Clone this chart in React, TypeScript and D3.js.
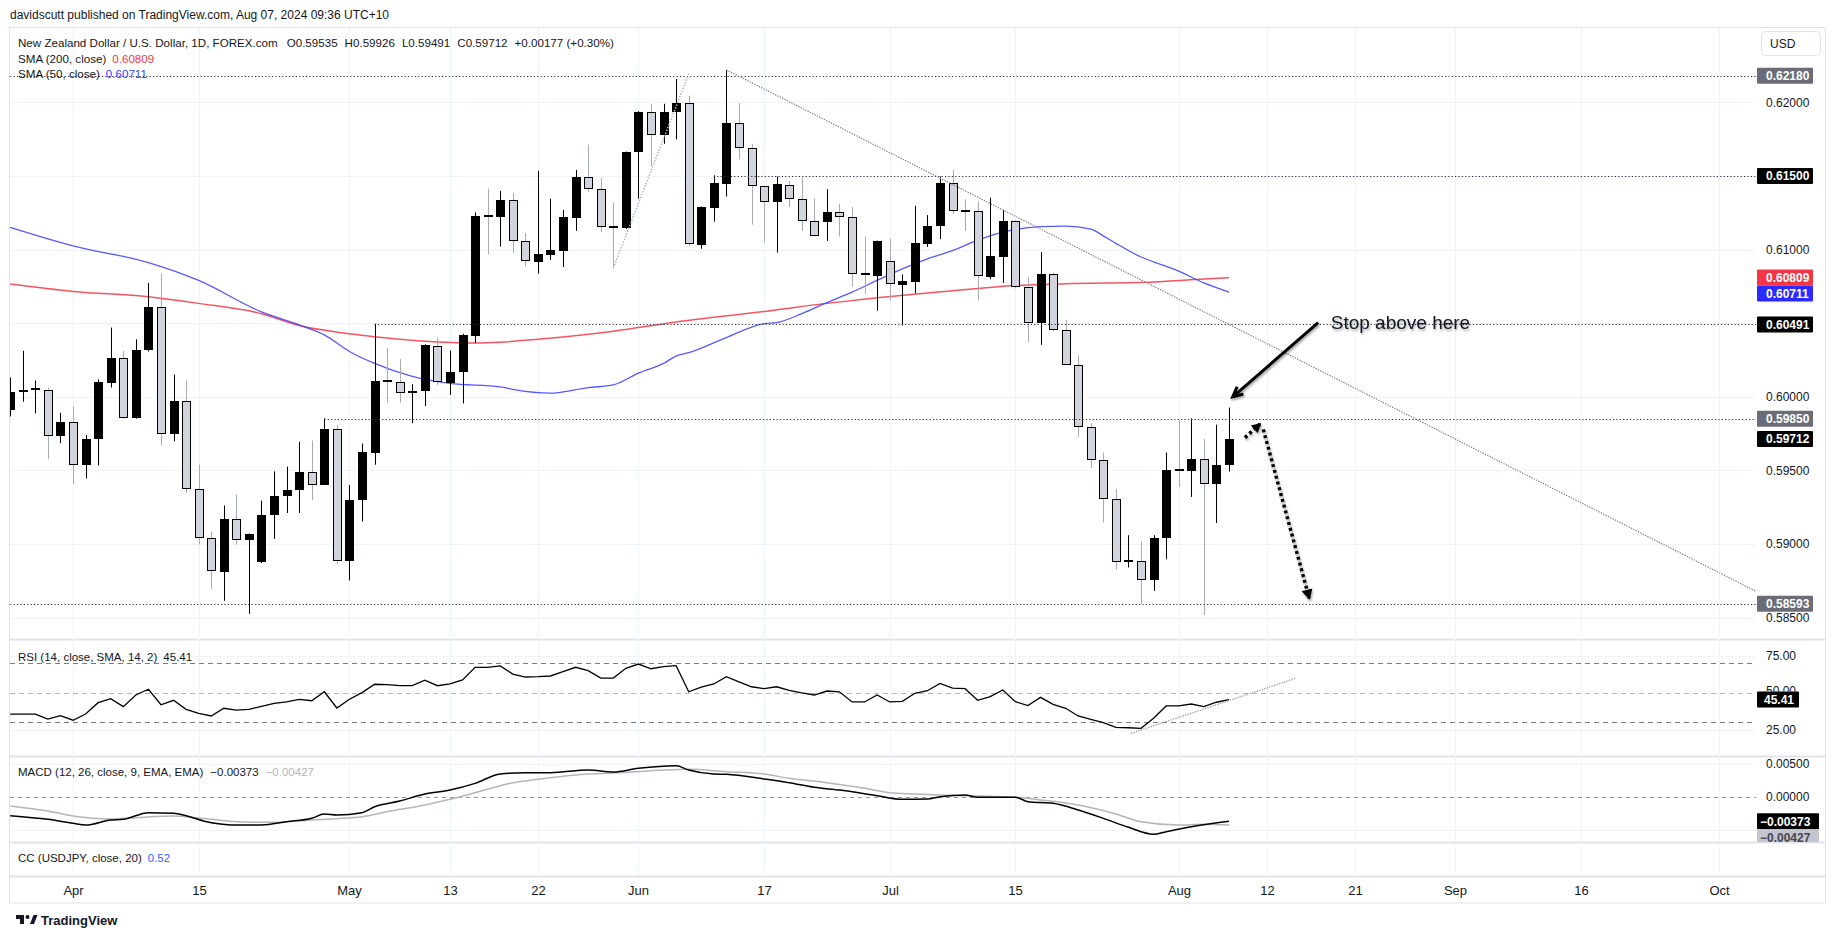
import * as d3 from "d3";

const W = 1835;
const H = 939;
const FONT = "'Liberation Sans', Arial, sans-serif";

// daily bars, weekdays from Mon 25 Mar 2024: [open, high, low, close]
const ohlc: number[][] = [
  [0.59908, 0.6013, 0.59866, 0.60034], [0.60033, 0.60312, 0.59966, 0.6004], [0.60045, 0.6011, 0.59886, 0.6005],
  [0.60047, 0.60062, 0.59576, 0.59735], [0.59732, 0.59891, 0.59684, 0.59828], [0.59828, 0.59934, 0.59404, 0.59535],
  [0.59533, 0.5974, 0.59445, 0.59714], [0.59712, 0.60118, 0.59533, 0.60097], [0.60092, 0.6047, 0.60062, 0.60261],
  [0.60261, 0.60312, 0.5985, 0.59855], [0.59853, 0.6039, 0.5985, 0.60319], [0.60314, 0.60773, 0.60307, 0.60609],
  [0.60606, 0.60836, 0.59669, 0.59745], [0.59745, 0.6015, 0.59697, 0.59974], [0.59974, 0.6011, 0.59349, 0.59374],
  [0.59374, 0.59538, 0.58996, 0.59039], [0.59039, 0.59084, 0.58694, 0.58815], [0.58812, 0.59261, 0.58613, 0.5917],
  [0.59168, 0.59336, 0.58996, 0.59026], [0.59026, 0.5907, 0.58525, 0.59067], [0.58878, 0.59294, 0.5887, 0.59198],
  [0.59193, 0.59493, 0.59034, 0.59324], [0.59324, 0.59525, 0.5921, 0.59367], [0.59367, 0.59694, 0.5921, 0.59488],
  [0.59488, 0.59702, 0.59299, 0.59399], [0.59399, 0.59853, 0.59399, 0.59782], [0.59782, 0.59808, 0.58865, 0.58883],
  [0.58883, 0.59399, 0.58752, 0.59299], [0.59299, 0.59682, 0.59152, 0.59621], [0.59619, 0.60496, 0.59538, 0.6011],
  [0.60108, 0.60332, 0.59961, 0.60105], [0.601, 0.60256, 0.59959, 0.60024], [0.60022, 0.60085, 0.5982, 0.6004],
  [0.60037, 0.60357, 0.59936, 0.60349], [0.60344, 0.60402, 0.6008, 0.60097], [0.60092, 0.60314, 0.60012, 0.60168],
  [0.60168, 0.60428, 0.59954, 0.60417], [0.60415, 0.61252, 0.60365, 0.61226], [0.61226, 0.61415, 0.60967, 0.61224],
  [0.61219, 0.61398, 0.6102, 0.61337], [0.61335, 0.61383, 0.60974, 0.61058], [0.61055, 0.61113, 0.60886, 0.60919],
  [0.60916, 0.61534, 0.60836, 0.60969], [0.60964, 0.61345, 0.60929, 0.60997], [0.60992, 0.61269, 0.60881, 0.61219],
  [0.61214, 0.61541, 0.61126, 0.61491], [0.61491, 0.61713, 0.6139, 0.6141], [0.6141, 0.61486, 0.61118, 0.61151],
  [0.61151, 0.6132, 0.60874, 0.6115], [0.61146, 0.61665, 0.6114, 0.61662], [0.6166, 0.6194, 0.61345, 0.61937],
  [0.61932, 0.6199, 0.61567, 0.61778], [0.61776, 0.6199, 0.61718, 0.61937], [0.61932, 0.62159, 0.61748, 0.61995],
  [0.61995, 0.62045, 0.61025, 0.61037], [0.61032, 0.61292, 0.61005, 0.61289], [0.61284, 0.61504, 0.61189, 0.61453],
  [0.61448, 0.6222, 0.6136, 0.61861], [0.61859, 0.61995, 0.61612, 0.6169], [0.6169, 0.61718, 0.61168, 0.61428],
  [0.61428, 0.6143, 0.6105, 0.6132], [0.6132, 0.61496, 0.60979, 0.61446], [0.61441, 0.61466, 0.61289, 0.6134],
  [0.6134, 0.61486, 0.61126, 0.61196], [0.61196, 0.61347, 0.61095, 0.61095], [0.61184, 0.6141, 0.61058, 0.61252],
  [0.61252, 0.6131, 0.61088, 0.61219], [0.61219, 0.61289, 0.60748, 0.60831], [0.60831, 0.61088, 0.60697, 0.60829],
  [0.60818, 0.6106, 0.60584, 0.61058], [0.60919, 0.61075, 0.60654, 0.60765], [0.6076, 0.60831, 0.60483, 0.60785],
  [0.6078, 0.61297, 0.60702, 0.61045], [0.61037, 0.61234, 0.61017, 0.61163], [0.61163, 0.61496, 0.6107, 0.61453],
  [0.61453, 0.61541, 0.61244, 0.61259], [0.61259, 0.6134, 0.61126, 0.61257], [0.61259, 0.61327, 0.60654, 0.60818],
  [0.60811, 0.61352, 0.60798, 0.60954], [0.60949, 0.61269, 0.60773, 0.61194], [0.61194, 0.612, 0.60735, 0.60748],
  [0.60748, 0.60811, 0.6037, 0.60501], [0.60501, 0.60982, 0.60352, 0.60831], [0.60831, 0.60841, 0.60445, 0.60453],
  [0.60453, 0.60521, 0.60214, 0.60216], [0.60216, 0.60281, 0.59727, 0.59795], [0.59795, 0.5982, 0.59513, 0.59571],
  [0.59571, 0.59621, 0.59147, 0.59304], [0.59304, 0.59374, 0.58825, 0.58875], [0.58882, 0.59059, 0.5884, 0.58885],
  [0.58883, 0.59016, 0.58593, 0.58757], [0.58757, 0.59059, 0.58681, 0.59039], [0.59039, 0.59621, 0.58895, 0.59505],
  [0.595, 0.5984, 0.59387, 0.59498], [0.59495, 0.59853, 0.59319, 0.59576], [0.59576, 0.59714, 0.58517, 0.59407],
  [0.59407, 0.5981, 0.59142, 0.59535], [0.59535, 0.59926, 0.59491, 0.59712],
];

// [bar, value]
const sma200: number[][] = [
  [0, 0.60765], [5, 0.60715], [11, 0.60679], [15, 0.60634], [20, 0.60564], [23, 0.60483], [27, 0.60428],
  [29, 0.60407], [33, 0.60377], [37, 0.60365], [39, 0.6037], [42, 0.6039], [48, 0.60445], [53, 0.60508],
  [60, 0.60579], [65, 0.60634], [69, 0.60672], [73, 0.60705], [77, 0.60735], [80, 0.60755], [84, 0.60768],
  [91, 0.6078], [95, 0.608], [97, 0.60809],
];
const sma50: number[][] = [
  [0, 0.61151], [5, 0.61025], [11, 0.60911], [15, 0.6079], [20, 0.60576], [23, 0.60488], [25, 0.6042],
  [27, 0.60307], [29, 0.60226], [32, 0.60138], [35, 0.6009], [39, 0.60067], [40, 0.6005], [43, 0.60024],
  [46, 0.60062], [48, 0.6008], [50, 0.6016], [52, 0.60226], [53, 0.60276], [54, 0.60299], [57, 0.60402],
  [60, 0.60496], [61, 0.60503], [63, 0.60564], [65, 0.60639], [67, 0.6071], [69, 0.6079], [71, 0.60869],
  [73, 0.60937], [75, 0.60992], [77, 0.61063], [79, 0.61118], [82, 0.61156], [84, 0.61159], [86, 0.61138],
  [87, 0.61093], [88, 0.61042], [90, 0.60949], [91, 0.60916], [93, 0.60853], [95, 0.60773], [97, 0.60711],
];

// RSI(14), one value per bar
const rsi: number[] = [
  35.6, 35.6, 35.6, 32.2, 34.5, 31.4, 35.6, 43.3, 46.0, 40.6,
  48.5, 52.4, 41.9, 44.9, 38.8, 36.1, 34.3, 39.5, 38.3, 38.8,
  40.8, 42.9, 43.8, 45.6, 44.6, 50.7, 39.7, 45.6, 50.1, 55.8,
  55.5, 54.8, 54.8, 58.5, 54.8, 56.0, 58.7, 67.3, 67.3, 68.2,
  62.7, 60.7, 60.9, 61.4, 64.3, 67.3, 65.0, 60.0, 60.0, 66.6,
  69.5, 66.3, 67.7, 68.4, 50.7, 53.8, 56.0, 60.9, 57.4, 54.1,
  52.8, 54.1, 51.7, 50.0, 48.5, 51.2, 50.7, 43.8, 43.8, 48.5,
  43.8, 44.2, 49.7, 51.4, 56.4, 53.1, 52.8, 44.9, 47.4, 51.9,
  44.0, 41.3, 46.9, 42.2, 39.5, 34.3, 32.0, 29.7, 26.6, 26.3,
  25.9, 32.7, 41.1, 41.1, 42.4, 40.6, 43.6, 45.41,
];

const macd: number[][] = [
  [0, -0.00287], [3, -0.00343], [5, -0.00403], [6, -0.00429], [8, -0.00353], [9, -0.00343], [11, -0.00242],
  [13, -0.00252], [16, -0.00394], [18, -0.00429], [20, -0.00429], [22, -0.00379], [24, -0.00328], [25, -0.00262],
  [26, -0.00277], [28, -0.00242], [29, -0.00152], [31, -0.00066], [33, 0.00041], [35, 0.00101], [37, 0.00202],
  [39, 0.00344], [41, 0.00364], [43, 0.00364], [46, 0.00404], [48, 0.00374], [50, 0.0043], [53, 0.0047],
  [54, 0.00404], [56, 0.00344], [57, 0.00339], [60, 0.00268], [62, 0.00212], [64, 0.00142], [66, 0.00101],
  [69, 0.00015], [71, -0.0004], [73, -0.00035], [74, 0.0], [76, 0.00025], [77, -0.00009], [80, -0.00009],
  [81, -0.00076], [83, -0.00101], [85, -0.00202], [87, -0.00328], [89, -0.00464], [91, -0.0057], [92, -0.0053],
  [94, -0.00455], [97, -0.00373],
];
const signal: number[][] = [
  [0, -0.00141], [3, -0.00217], [5, -0.00292], [8, -0.00338], [10, -0.00318], [13, -0.00292], [16, -0.00343],
  [18, -0.00379], [21, -0.00388], [24, -0.00353], [26, -0.00333], [28, -0.00303], [30, -0.00227], [33, -0.00126],
  [35, -0.0004], [38, 0.00112], [40, 0.00212], [42, 0.00263], [45, 0.00329], [49, 0.00369], [52, 0.00404],
  [54, 0.00415], [57, 0.00379], [60, 0.00344], [62, 0.00278], [65, 0.00212], [68, 0.00127], [70, 0.00061],
  [72, 0.00041], [74, 0.00025], [77, 0.0001], [80, -0.00009], [82, -0.0005], [85, -0.00126], [88, -0.00262],
  [90, -0.00379], [93, -0.00429], [95, -0.00419], [97, -0.00427],
];

const timeTicks: string[][] = [
  ["2024-04-01", "Apr"], ["2024-04-15", "15"], ["2024-05-01", "May"], ["2024-05-13", "13"], ["2024-05-22", "22"],
  ["2024-06-03", "Jun"], ["2024-06-17", "17"], ["2024-07-01", "Jul"], ["2024-07-15", "15"], ["2024-08-01", "Aug"],
  ["2024-08-12", "12"], ["2024-08-21", "21"], ["2024-09-02", "Sep"], ["2024-09-16", "16"], ["2024-10-01", "Oct"],
];
const priceTicks = [0.585, 0.59, 0.595, 0.6, 0.605, 0.61, 0.615, 0.62];
const rsiTicks = [25, 50, 75];
const macdTicks = [0, 0.005];

// horizontal levels drawn on the chart and the date each one starts from
const levels = [0.6218, 0.615, 0.60491, 0.5985, 0.58593];
const levelFrom = ["2024-03-25", "2024-06-11", "2024-05-03", "2024-04-29", "2024-03-25"];
const levelTag = ["#6a6d78", "#000000", "#000000", "#6a6d78", "#6a6d78"];

// trend lines and arrows as [bar, value]
const downTrend = [[57, 0.6222], [79, 0.61269]];
const upTrend = [[48, 0.60874], [54, 0.62192]];
const rsiTrend = [[89.2, 22.5], [102.3, 59.8]];
const stopArrow = [[104.1, 0.60503], [97.3, 0.59999]];
const arrowUp = [[98.27, 0.59722], [99.47, 0.59815]];
const arrowDown = [[99.73, 0.59778], [103.39, 0.58631]];

// plot geometry
const L = 10, R = 1756, AX = 1825;
const pTop = 28, pBot = 639, rTop = 640, rBot = 756, mTop = 757, mBot = 842, cBot = 876, tBot = 903;

function head(x1: number, y1: number, x2: number, y2: number, len: number, spread: number) {
  const a = Math.atan2(y2 - y1, x2 - x1);
  const p1 = [x2 - len * Math.cos(a - spread), y2 - len * Math.sin(a - spread)];
  const p2 = [x2 - len * Math.cos(a + spread), y2 - len * Math.sin(a + spread)];
  return `M${p1[0]},${p1[1]}L${x2},${y2}L${p2[0]},${p2[1]}`;
}

function Tag({ y, text, fill, color = "#fff", w = 56, tx = 1766 }: { y: number; text: string; fill: string; color?: string; w?: number; tx?: number }) {
  return (
    <g>
      <rect x={1757} y={y - 8} width={w} height={16} fill={fill} rx={1} />
      <text x={tx} y={y} dy="0.35em" fill={color} fontSize={12} fontWeight={600}>{text}</text>
    </g>
  );
}

export default function App() {
  const dates = d3.timeDay.range(new Date(2024, 2, 25), new Date(2024, 9, 5)).filter((d) => d.getDay() % 6 !== 0);
  const parse = d3.timeParse("%Y-%m-%d");
  const barOf = (s: string) => dates.findIndex((d) => +d === +(parse(s) as Date));

  const x = d3.scaleLinear().domain([0, 136]).range([10.2, 1719]);
  const y = d3.scaleLinear().domain([0.585, 0.62]).range([617.5, 102.3]);
  const yR = d3.scaleLinear().domain([0, 100]).range([766.55, 619.05]);
  const yM = d3.scaleLinear().domain([-0.005, 0.005]).range([829.7, 763.7]);
  const f5 = d3.format(".5f");
  const neg = (v: number) => f5(v).replace("-", "\u2212");

  const priceLine = d3.line<number[]>().x((d) => x(d[0])).y((d) => y(d[1])).curve(d3.curveMonotoneX);
  const rsiLine = d3.line<number>().x((_, i) => x(i)).y((d) => yR(d));
  const macdLine = d3.line<number[]>().x((d) => x(d[0])).y((d) => yM(d[1])).curve(d3.curveMonotoneX);

  const dn = downTrend.map((d) => [x(d[0]), y(d[1])]);
  const slope = (dn[1][1] - dn[0][1]) / (dn[1][0] - dn[0][0]);
  const dnEnd = [R, dn[0][1] + slope * (R - dn[0][0])];

  const tickX = timeTicks.map((t) => Math.round(x(barOf(t[0]))) + 0.5);

  const sa = stopArrow.map((d) => [x(d[0]), y(d[1])]);
  const au = arrowUp.map((d) => [x(d[0]), y(d[1])]);
  const ad = arrowDown.map((d) => [x(d[0]), y(d[1])]);
  const rt = rsiTrend.map((d) => [x(d[0]), yR(d[1])]);
  const ut = upTrend.map((d) => [x(d[0]), y(d[1])]);

  const last = ohlc[ohlc.length - 1];
  const prev = ohlc[ohlc.length - 2];
  const chg = last[3] - prev[3];
  const rsiLast = rsi[rsi.length - 1];
  const macdLast = macd[macd.length - 1][1];
  const sigLast = signal[signal.length - 1][1];

  return (
    <svg width={W} height={H} viewBox={`0 0 ${W} ${H}`} style={{ position: "absolute", left: 0, top: 0, background: "#fff" }} fontFamily={FONT}>
      <defs>
        <clipPath id="cp"><rect x={L} y={pTop} width={R - L} height={pBot - pTop} /></clipPath>
        <clipPath id="cr"><rect x={L} y={rTop} width={R - L} height={rBot - rTop} /></clipPath>
        <clipPath id="cm"><rect x={L} y={mTop} width={R - L} height={mBot - mTop} /></clipPath>
        <clipPath id="cma"><rect x={R} y={mTop} width={AX - R} height={mBot - mTop} /></clipPath>
        <clipPath id="c50"><rect x={R} y={rTop} width={AX - R} height={yR(rsiLast) - 8 - rTop} /></clipPath>
        <filter id="sh" x="-20%" y="-50%" width="140%" height="200%">
          <feGaussianBlur in="SourceAlpha" stdDeviation="1.2" />
          <feOffset dx="1" dy="1.5" result="b" />
          <feComponentTransfer><feFuncA type="linear" slope="0.35" /></feComponentTransfer>
          <feMerge><feMergeNode /><feMergeNode in="SourceGraphic" /></feMerge>
        </filter>
      </defs>
      <rect width={W} height={H} fill="#fff" />

      <text x={10} y={18.5} fontSize={12} fill="#131722">davidscutt published on TradingView.com, Aug 07, 2024 09:36 UTC+10</text>

      {/* frame and pane separators */}
      <rect x={9.5} y={27.5} width={AX - 9} height={tBot - 27.5} fill="none" stroke="#e0e3eb" />
      {[pBot, rBot, mBot, cBot].map((v) => (
        <line key={v} x1={L} x2={AX} y1={v + 0.5} y2={v + 0.5} stroke="#e0e3eb" strokeWidth={2} />
      ))}

      {/* grid */}
      {tickX.map((tx, i) => (
        <line key={i} x1={tx} x2={tx} y1={pTop} y2={cBot} stroke="#f0f3fa" />
      ))}
      {priceTicks.map((p) => (
        <line key={p} x1={L} x2={R} y1={Math.round(y(p)) + 0.5} y2={Math.round(y(p)) + 0.5} stroke="#f0f3fa" />
      ))}
      {[25, 75].map((v) => (
        <line key={v} x1={L} x2={R} y1={Math.round(yR(v)) + 0.5} y2={Math.round(yR(v)) + 0.5} stroke="#f0f3fa" />
      ))}
      {[-0.005, 0.005].map((v) => (
        <line key={v} x1={L} x2={R} y1={Math.round(yM(v)) + 0.5} y2={Math.round(yM(v)) + 0.5} stroke="#f0f3fa" />
      ))}

      {/* price pane */}
      <g clipPath="url(#cp)">
        <path d={priceLine(sma200) ?? ""} fill="none" stroke="#f23645" strokeOpacity={0.85} strokeWidth={1.5} />
        <path d={priceLine(sma50) ?? ""} fill="none" stroke="#3b3bff" strokeOpacity={0.85} strokeWidth={1.3} />
        {ohlc.map((d, i) => {
          const [o, h, l, c] = d;
          const up = c >= o;
          const cx = Math.round(x(i));
          const top = Math.round(y(Math.max(o, c)));
          const bot = Math.round(y(Math.min(o, c)));
          return (
            <g key={i}>
              <line x1={cx + 0.5} x2={cx + 0.5} y1={y(h)} y2={y(l)} stroke={up ? "#000" : "#a8abb4"} />
              {bot - top < 2 ? (
                <rect x={cx - 4} y={top - 1} width={9} height={2} fill="#000" />
              ) : (
                <rect x={cx - 3.5} y={top + 0.5} width={8} height={bot - top - 1} fill={up ? "#000" : "#d1d4dc"} stroke="#000" />
              )}
            </g>
          );
        })}
        {levels.map((v, i) => (
          <line key={v} x1={x(barOf(levelFrom[i]))} x2={R} y1={Math.round(y(v)) + 0.5} y2={Math.round(y(v)) + 0.5}
            stroke="#2a2e39" strokeDasharray="1.2 2.2" />
        ))}
        <line x1={dn[0][0]} y1={dn[0][1]} x2={dnEnd[0]} y2={dnEnd[1]} stroke="#787b86" strokeWidth={1.2} strokeDasharray="1.3 1.3" />
        <line x1={ut[0][0]} y1={ut[0][1]} x2={ut[1][0]} y2={ut[1][1]} stroke="#b2b5be" strokeWidth={1.5} strokeDasharray="1.5 1.5" />

        <g filter="url(#sh)">
          <line x1={sa[0][0]} y1={sa[0][1]} x2={sa[1][0]} y2={sa[1][1]} stroke="#000" strokeWidth={3} />
          <path d={head(sa[0][0], sa[0][1], sa[1][0], sa[1][1], 11, 0.45)} fill="none" stroke="#000" strokeWidth={3} strokeLinejoin="miter" />
          <text x={x(105.1)} y={sa[0][1] + 6} fontSize={19} fill="#131722">Stop above here</text>
          <line x1={au[0][0]} y1={au[0][1]} x2={au[1][0]} y2={au[1][1]} stroke="#000" strokeWidth={3.5} strokeDasharray="3 3" />
          <path d={head(au[0][0], au[0][1], au[1][0], au[1][1], 8, 0.5) + "Z"} fill="#000" stroke="#000" strokeWidth={1.5} />
          <line x1={ad[0][0]} y1={ad[0][1]} x2={ad[1][0]} y2={ad[1][1]} stroke="#000" strokeWidth={3.5} strokeDasharray="3 3" />
          <path d={head(ad[0][0], ad[0][1], ad[1][0], ad[1][1], 9, 0.5) + "Z"} fill="#000" stroke="#000" strokeWidth={1.5} />
        </g>
      </g>

      {/* price legend */}
      <g fontSize={11.6} fill="#131722">
        <text x={18} y={47}>
          New Zealand Dollar / U.S. Dollar, 1D, FOREX.com
          <tspan dx={9}>O{f5(last[0])}</tspan>
          <tspan dx={7}>H{f5(last[1])}</tspan>
          <tspan dx={7}>L{f5(last[2])}</tspan>
          <tspan dx={7}>C{f5(last[3])}</tspan>
          <tspan dx={7}>+{f5(chg)} (+{((chg / prev[3]) * 100).toFixed(2)}%)</tspan>
        </text>
        <text x={18} y={62.5}>SMA (200, close)<tspan dx={6} fill="#f23645">{f5(sma200[sma200.length - 1][1])}</tspan></text>
        <text x={18} y={78}>SMA (50, close)<tspan dx={6} fill="#3b3bff">{f5(sma50[sma50.length - 1][1])}</tspan></text>
      </g>

      {/* USD button */}
      <rect x={1761.5} y={31.5} width={59} height={24} rx={4} fill="#fff" stroke="#e0e3eb" />
      <text x={1770} y={44} dy="0.35em" fontSize={12} fill="#131722">USD</text>

      {/* price axis */}
      {priceTicks.map((p) => (
        <text key={p} x={1766} y={y(p)} dy="0.35em" fontSize={12} fill="#131722">{f5(p)}</text>
      ))}
      {levels.map((v, i) => (
        <Tag key={v} y={y(v)} text={f5(v)} fill={levelTag[i]} />
      ))}
      <Tag y={y(0.60809)} text={f5(0.60809)} fill="#f23645" />
      <Tag y={y(0.60809) + 16} text={f5(0.60711)} fill="#2b2bff" />
      <Tag y={y(last[3])} text={f5(last[3])} fill="#000" />

      {/* RSI pane */}
      <g clipPath="url(#cr)">
        {[70, 30].map((v) => (
          <line key={v} x1={L} x2={R} y1={Math.round(yR(v)) + 0.5} y2={Math.round(yR(v)) + 0.5} stroke="#787b86" strokeDasharray="5 4" />
        ))}
        <line x1={L} x2={R} y1={Math.round(yR(50)) + 0.5} y2={Math.round(yR(50)) + 0.5} stroke="#b2b5be" strokeDasharray="5 4" />
        <path d={rsiLine(rsi) ?? ""} fill="none" stroke="#000" strokeWidth={1.3} />
        <line x1={rt[0][0]} y1={rt[0][1]} x2={rt[1][0]} y2={rt[1][1]} stroke="#9598a1" strokeWidth={1.3} strokeDasharray="1.3 1.3" />
      </g>
      <text x={18} y={661} fontSize={11.5} fill="#131722">RSI (14, close, SMA, 14, 2)<tspan dx={6}>{rsiLast.toFixed(2)}</tspan></text>
      {rsiTicks.filter((v) => v !== 50).map((v) => (
        <text key={v} x={1766} y={yR(v)} dy="0.35em" fontSize={12} fill="#131722">{v.toFixed(2)}</text>
      ))}
      {/* 50.00 sits behind the last-value tag, only its top shows */}
      <g clipPath="url(#c50)">
        <text x={1766} y={yR(50) - 2} dy="0.35em" fontSize={12} fill="#131722">{(50).toFixed(2)}</text>
      </g>
      <rect x={1757} y={yR(rsiLast) - 8} width={42} height={16} fill="#000" rx={1} />
      <text x={1764} y={yR(rsiLast)} dy="0.35em" fontSize={12} fontWeight={600} fill="#fff">{rsiLast.toFixed(2)}</text>

      {/* MACD pane */}
      <g clipPath="url(#cm)">
        <line x1={L} x2={R} y1={Math.round(yM(0)) + 0.5} y2={Math.round(yM(0)) + 0.5} stroke="#9598a1" strokeDasharray="4 4" />
        <path d={macdLine(signal) ?? ""} fill="none" stroke="#b2b5be" strokeWidth={1.5} />
        <path d={macdLine(macd) ?? ""} fill="none" stroke="#000" strokeWidth={1.5} />
      </g>
      <text x={18} y={776} fontSize={11.5} fill="#131722">
        MACD (12, 26, close, 9, EMA, EMA)
        <tspan dx={7}>{neg(macdLast)}</tspan>
        <tspan dx={7} fill="#b2b5be">{neg(sigLast)}</tspan>
      </text>
      {macdTicks.map((v) => (
        <text key={v} x={1766} y={yM(v)} dy="0.35em" fontSize={12} fill="#131722">{f5(v)}</text>
      ))}
      <g clipPath="url(#cma)">
        <Tag y={yM(macdLast)} text={neg(macdLast)} fill="#000" w={62} tx={1760} />
        <Tag y={yM(macdLast) + 16} text={neg(sigLast)} fill="#c3c6ce" color="#434651" w={62} tx={1760} />
      </g>

      {/* CC pane */}
      <text x={18} y={862} fontSize={11.5} fill="#131722">CC (USDJPY, close, 20)<tspan dx={6} fill="#2962ff">0.52</tspan></text>

      {/* time axis */}
      {timeTicks.map((t, i) => (
        <text key={i} x={tickX[i]} y={894.5} textAnchor="middle" fontSize={13} fill="#131722">{t[1]}</text>
      ))}

      {/* footer logo */}
      <g fill="#131722">
        <path d="M16,915h8v9h-4v-5h-4z" />
        <circle cx={27.5} cy={917} r={2} />
        <path d="M30,924l3.5,-9h4l-3.5,9z" />
        <text x={41} y={925} fontSize={13} fontWeight={600}>TradingView</text>
      </g>
    </svg>
  );
}
